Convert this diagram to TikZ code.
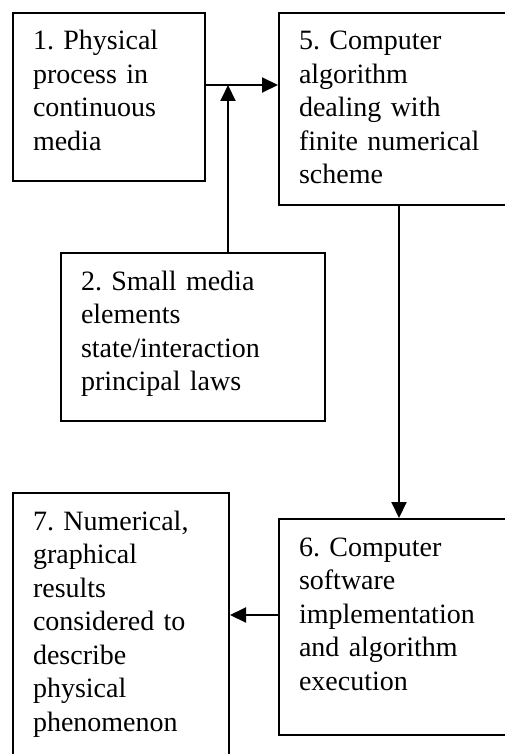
\documentclass[tikz,border=0pt]{standalone}
\usepackage{fontspec}
\setmainfont{Liberation Serif}
\usetikzlibrary{arrows.meta, positioning}
\tikzset{
  stage/.style={
    rectangle, draw, line width=2pt, anchor=north west,
    align=left, inner xsep=20pt, inner ysep=0pt,
    text height=37pt,
    font=\fontsize{28}{33.5}\selectfont\frenchspacing
  },
  arr/.style={-{Triangle[length=16pt, width=15pt]}, line width=2pt},
}

\begin{document}
\begin{tikzpicture}[x=1pt, y=-1pt]

  \useasboundingbox (0,0) rectangle (504,754);

  % -- top row -----------------------------------------------------------------
  \node[stage, text width=152pt, text depth=131pt] (phys) at (12,12)
    {1. Physical\\process in\\continuous\\media};
  \node[stage, text width=200pt, text depth=155pt,
        right=72pt of phys.north east, anchor=north west] (algo)
    {5. Computer\\algorithm\\dealing with\\finite numerical\\scheme};

  % -- laws box ----------------------------------------------------------------
  \node[stage, text width=224pt, text depth=131pt] (laws) at (60,252)
    {2. Small media\\elements\\state/interaction\\principal laws};

  % -- bottom row --------------------------------------------------------------
  \node[stage, text width=200pt, text depth=179pt,
        below=312pt of algo.south west, anchor=north west] (soft)
    {6. Computer\\software\\implementation\\and algorithm\\execution};
  \node[stage, text width=176pt, text depth=243pt] (res) at (12,492)
    {7. Numerical,\\graphical\\results\\considered to\\describe\\physical\\phenomenon};

  % -- connectors --------------------------------------------------------------
  \coordinate (meet) at (228,85);
  \draw[arr] (phys.east |- meet) -- (algo.west |- meet);
  \draw[arr] (laws.north -| meet) -- (meet);
  \draw[arr] (algo) -- (soft);
  \draw[arr] ([yshift=12pt]soft.west) -- ([yshift=12pt]soft.west -| res.east);

\end{tikzpicture}
\end{document}
